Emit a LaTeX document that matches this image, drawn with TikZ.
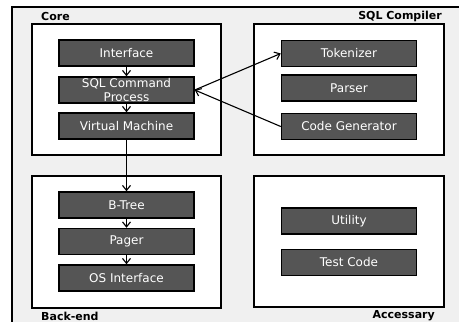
\documentclass[tikz,border=0pt]{standalone}
\usepackage{fontspec}
\setmainfont{DejaVu Sans}
\usetikzlibrary{arrows.meta}
\definecolor{boxfill}{HTML}{555555}
\definecolor{bgray}{HTML}{F0F0F0}
\tikzset{
  modbox/.style={draw=black, line width=1.5pt, fill=boxfill, text=white,
    minimum width=135pt, minimum height=26pt, inner sep=0pt, align=center,
    font=\fontsize{12}{13.5}\selectfont},
  groupbox/.style={draw=black, line width=1.5pt, fill=white},
  grouplabel/.style={font=\bfseries\fontsize{11}{12}\selectfont, inner sep=0pt},
  arr/.style={-{Straight Barb[length=5pt,width=8pt]}, line width=1.1pt}
}
\begin{document}
\begin{tikzpicture}[x=1pt,y=-1pt]
\useasboundingbox (0,0) rectangle (459,322);
\clip (0,0) rectangle (459,322);
\draw[line width=1.6pt, fill=bgray] (12,7) rectangle (470,335);
% group frames
\draw[groupbox] (32,24) rectangle (221,155);
\draw[groupbox] (254,24) rectangle (444,155);
\draw[groupbox] (32,176) rectangle (221,308);
\draw[groupbox] (254,176) rectangle (444,307);
% group labels
\node[grouplabel, anchor=west] (lcore) at (41,16) {Core};
\node[grouplabel, anchor=east] (lsql) at (442,16) {SQL Compiler};
\node[grouplabel, anchor=west] (lback) at (41,316) {Back-end};
\node[grouplabel, anchor=east] (lacc) at (435,316) {Accessary};
% core
\node[modbox] (iface) at (126.5,53) {Interface};
\node[modbox] (sqlcmd) at (126.5,90) {SQL Command\\Process};
\node[modbox] (vm) at (126.5,126) {Virtual Machine};
% compiler
\node[modbox] (tok) at (349,53.5) {Tokenizer};
\node[modbox] (parser) at (349,88) {Parser};
\node[modbox] (codegen) at (349,126.5) {Code Generator};
% back-end
\node[modbox] (btree) at (126.5,205) {B-Tree};
\node[modbox] (pager) at (126.5,241.5) {Pager};
\node[modbox] (osif) at (126.5,278) {OS Interface};
% accessary
\node[modbox] (util) at (349,221) {Utility};
\node[modbox] (test) at (349,262.5) {Test Code};
% arrows
\draw[arr] (iface) -- (sqlcmd);
\draw[arr] (sqlcmd) -- (vm);
\draw[arr] (vm) -- (btree);
\draw[arr] (btree) -- (pager);
\draw[arr] (pager) -- (osif);
\draw[arr] (sqlcmd.east) -- (tok.west);
\draw[arr] (codegen.west) -- (sqlcmd.east);
\end{tikzpicture}
\end{document}
